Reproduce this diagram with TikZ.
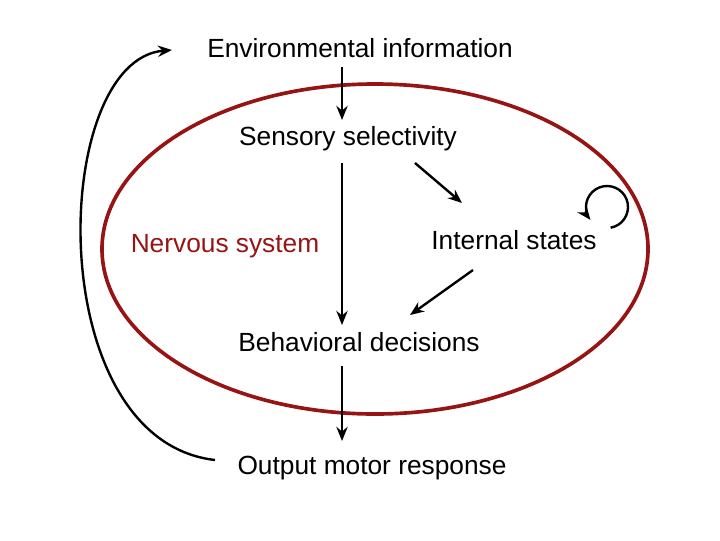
\documentclass[tikz,border=0pt]{standalone}
\usepackage{fontspec}
\setmainfont{Liberation Sans}
\usetikzlibrary{arrows.meta}
\definecolor{dred}{RGB}{150,20,20}
\begin{document}
\begin{tikzpicture}[x=0.025cm,y=-0.025cm,
  lbl/.style={font=\fontsize{18.7}{22}\selectfont,inner sep=1pt},
  arr/.style={line width=1.7pt,-{Stealth[length=10pt,width=8pt]}}]
\useasboundingbox (0,0) rectangle (720,540);
\draw[dred,line width=2.6pt] (375,249) ellipse [x radius=273,y radius=165];
\node[lbl] (env) at (360,48) {Environmental information};
\node[lbl] (sens) at (348,139) {Sensory selectivity};
\node[lbl,text=dred] (nerv) at (225,246) {Nervous system};
\node[lbl] (int) at (514,240) {Internal states};
\node[lbl] (beh) at (359,342) {Behavioral decisions};
\node[lbl] (out) at (372,468) {Output motor response};
\coordinate (a1) at (342,67); \coordinate (a2) at (342,120);
\coordinate (b1) at (342,163); \coordinate (b2) at (342,325);
\coordinate (c1) at (415,163); \coordinate (c2) at (462,203);
\coordinate (d1) at (473,270); \coordinate (d2) at (410,315);
\coordinate (e1) at (342,366); \coordinate (e2) at (342,441);
\coordinate (f1) at (215,460); \coordinate (f2) at (172,50);
\draw[arr] (a1) -- (a2);
\draw[arr] (b1) -- (b2);
\draw[arr] (c1) -- (c2);
\draw[arr] (d1) -- (d2);
\draw[arr] (e1) -- (e2);
\draw[arr] (f1) .. controls (40,440) and (50,60) .. (f2);
\coordinate (g) at (607,207);
\draw[arr] ([shift={(80:21)}]g) arc[start angle=80,end angle=-218,radius=21];
\end{tikzpicture}
\end{document}
